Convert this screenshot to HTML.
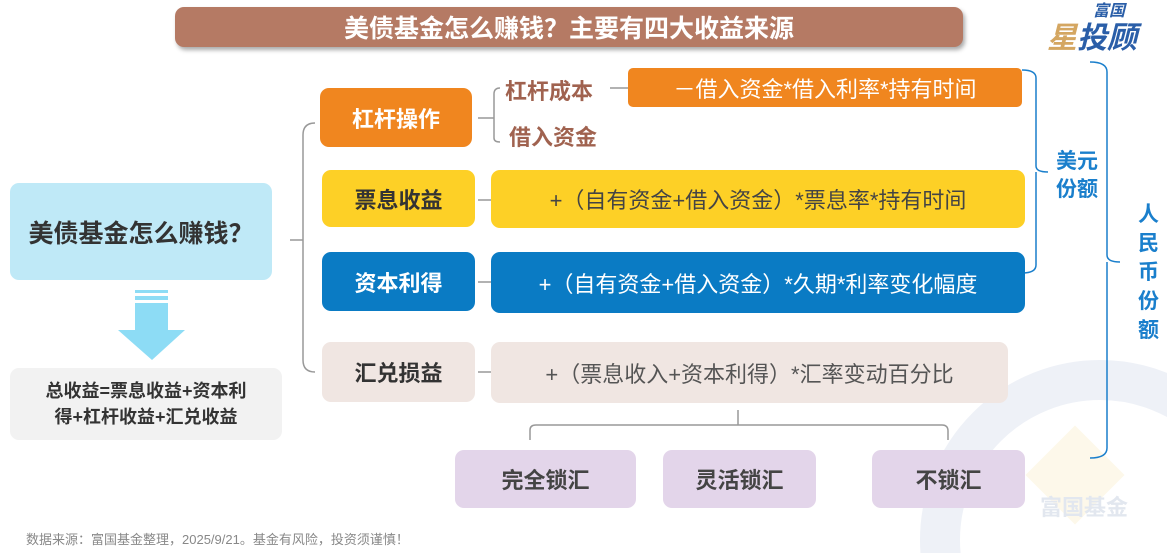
<!DOCTYPE html>
<html><head><meta charset="utf-8"><style>
html,body{margin:0;width:1167px;height:553px;overflow:hidden}
body{background:#fff;position:relative;font-family:"Liberation Sans","Noto Sans CJK SC",sans-serif}
.a{position:absolute;box-sizing:border-box;display:flex;align-items:center;justify-content:center;border-radius:9px}
.b{font-weight:bold}
</style></head><body>
<svg style="position:absolute;left:0;top:0" width="1167" height="553">
<circle cx="1100" cy="540" r="160" fill="none" stroke="#eef1f7" stroke-width="40"/>
<rect x="1040" y="440" width="70" height="70" fill="#fdf8ea" transform="rotate(45 1075 475)"/>
<g fill="none" stroke="#999" stroke-width="1.5">
<path d="M290 240 H303 M315 123 Q303 123 303 135 V360 Q303 372 315 372"/>
<path d="M478 118 H494 M500 88 Q494 88 494 94 V138 Q494 142 500 142 M610 88 H628"/>
<path d="M478 200 H491 M478 282 H491 M478 372 H491"/>
<path d="M738 410 V425 M530 440 V430 Q530 425 536 425 H942 Q948 425 948 431 V440"/>
</g>
<g fill="none" stroke="#1a7fcc" stroke-width="1.5">
<path d="M1022 70 Q1036 70 1036 78 V166 Q1036 172 1048 172 M1036 172 Q1036 178 1036 186 V265 Q1036 273 1022 273"/>
<path d="M1090 62 Q1107 62 1107 72 V255 Q1107 262 1120 262 M1107 262 V448 Q1107 458 1090 458"/>
</g>
<polygon points="118,330 185,330 152,360" fill="#8ddcf5"/>
<rect x="135" y="290" width="33" height="3" fill="#8ddcf5"/>
<rect x="135" y="296" width="33" height="4" fill="#8ddcf5"/>
<rect x="135" y="303" width="33" height="28" fill="#8ddcf5"/>
</svg>
<div class="a b" style="left:175px;top:7px;width:788px;height:40px;background:#b57a64;color:#fff;font-size:25px;box-shadow:2px 3px 4px #aaa">美债基金怎么赚钱？主要有四大收益来源</div>
<div class="b" style="position:absolute;left:1045px;top:4px;width:110px;height:50px;color:#2a5ea8;font-style:italic;line-height:1"><span style="position:absolute;left:48px;top:0;font-size:16px">富国</span><span style="position:absolute;left:2px;top:20px;font-size:30px;white-space:nowrap"><span style="color:#d4a661">星</span>投顾</span></div>
<div class="a b" style="left:10px;top:183px;width:262px;height:97px;background:#bfe9f7;color:#333;font-size:25px">美债基金怎么赚钱？</div>
<div class="a b" style="left:10px;top:368px;width:272px;height:72px;background:#f2f2f2;color:#333;font-size:18px;text-align:center;line-height:26px">总收益=票息收益+资本利<br>得+杠杆收益+汇兑收益</div>
<div class="a b" style="left:320px;top:88px;width:152px;height:59px;background:#f0861f;color:#fff;font-size:22px">杠杆操作</div>
<div class="a b" style="left:322px;top:170px;width:153px;height:57px;background:#fdd026;color:#333;font-size:22px">票息收益</div>
<div class="a b" style="left:322px;top:252px;width:153px;height:59px;background:#0a7bc4;color:#fff;font-size:22px">资本利得</div>
<div class="a b" style="left:322px;top:342px;width:153px;height:60px;background:#f0e6e2;color:#333;font-size:22px">汇兑损益</div>
<div class="b" style="position:absolute;left:505px;top:74px;color:#a0624f;font-size:22px">杠杆成本</div>
<div class="b" style="position:absolute;left:509px;top:120px;color:#a0624f;font-size:22px">借入资金</div>
<div class="a" style="left:628px;top:68px;width:394px;height:39px;background:#f0861f;color:#fff;font-size:22px;border-radius:5px">－借入资金*借入利率*持有时间</div>
<div class="a" style="left:491px;top:170px;width:534px;height:58px;background:#fdd026;color:#444;font-size:22px">+（自有资金+借入资金）*票息率*持有时间</div>
<div class="a" style="left:491px;top:252px;width:534px;height:61px;background:#0a7bc4;color:#fff;font-size:22px">+（自有资金+借入资金）*久期*利率变化幅度</div>
<div class="a" style="left:491px;top:342px;width:517px;height:61px;background:#f0e6e2;color:#555;font-size:22px">+（票息收入+资本利得）*汇率变动百分比</div>
<div class="a b" style="left:455px;top:450px;width:181px;height:58px;background:#e3d5ea;color:#444;font-size:22px">完全锁汇</div>
<div class="a b" style="left:663px;top:450px;width:153px;height:58px;background:#e3d5ea;color:#444;font-size:22px">灵活锁汇</div>
<div class="a b" style="left:872px;top:450px;width:153px;height:58px;background:#e3d5ea;color:#444;font-size:22px">不锁汇</div>
<div class="b" style="position:absolute;left:1056px;top:148px;color:#1a7fcc;font-size:21px;line-height:28px;width:50px">美元<br>份额</div>
<div class="b" style="position:absolute;left:1138px;top:200px;color:#1a7fcc;font-size:21px;line-height:29px;width:25px">人<br>民<br>币<br>份<br>额</div>
<div class="b" style="position:absolute;left:1040px;top:490px;color:#e2e7ef;font-size:22px">富国基金</div>
<div style="position:absolute;left:26px;top:532px;color:#888;font-size:13px;line-height:16px">数据来源：富国基金整理，2025/9/21。基金有风险，投资须谨慎！</div>
</body></html>
